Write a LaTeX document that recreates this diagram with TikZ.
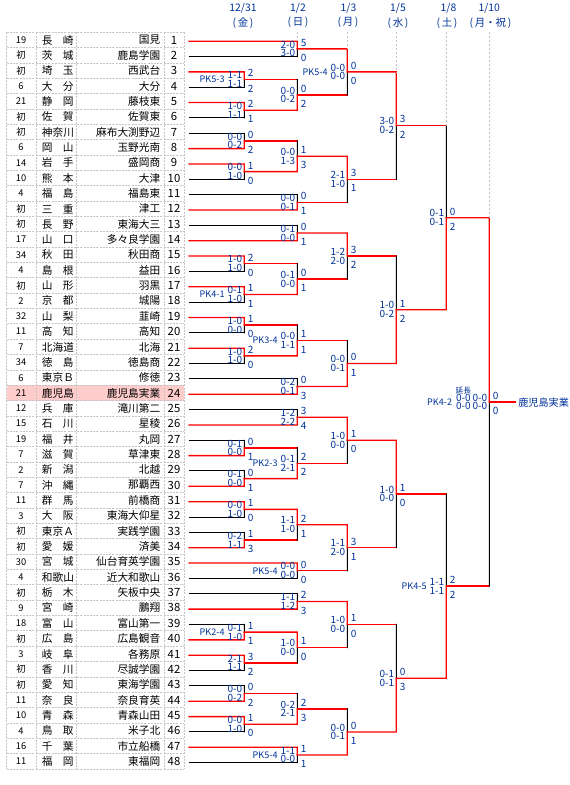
\documentclass[tikz,border=0pt]{standalone}
\usepackage{fontspec}
\setmainfont{Noto Sans CJK JP}
\usetikzlibrary{calc}
\definecolor{navy}{RGB}{0,51,153}
\definecolor{gridc}{RGB}{196,196,196}
\definecolor{pinkrow}{RGB}{255,204,204}
\definecolor{guidec}{RGB}{190,190,190}
\definecolor{wred}{RGB}{255,0,0}
% match: #1 name, #2 column, #3 winner entry, #4 loser entry, #5 style of loser's horizontal
\newcommand\bm[5]{%
  \coordinate (#1) at ($(#3 -| #2)!0.5!(#4 -| #2)$);
  \draw[#5] (#4) -- (#4 -| #2);
  \draw[lose] (#4 -| #2) -- (#1);
  \draw[win] (#3) -- (#3 -| #2) -- (#1);
}
% labels: #1 match, #2 upper score, #3 lower score, #4 upper goals, #5 lower goals
\newcommand\lab[5]{%
  \node[sc, anchor=east] (#1a) at ($(#1)+(-1.8,-4.4)$) {#2};
  \node[sc, anchor=east] (#1b) at ($(#1)+(-1.8,4.4)$) {#3};
  \node[sc, anchor=west] (#1c) at ($(#1)+(3.2,-6.2)$) {#4};
  \node[sc, anchor=west] (#1d) at ($(#1)+(3.2,9)$) {#5};
}
\newcommand\pkl[2]{\node[sc, font=\fontsize{6.8}{7}\selectfont, anchor=east] (#1p) at ($(#1)+(-19.5,0)$) {#2};}
\begin{document}
\begin{tikzpicture}[x=0.75pt,y=-0.75pt,
  win/.style={draw=wred, line width=1.0pt, line cap=rect},
  lose/.style={draw=black, line width=0.75pt, line cap=rect},
  sc/.style={font=\fontsize{7.5}{7.5}\selectfont, text=navy, inner sep=0pt},
  hdr/.style={font=\fontsize{7.8}{8}\selectfont, text=navy, inner sep=0pt},
  guide/.style={draw=guidec, line width=0.75pt, dash pattern=on 1.5pt off 1.5pt},
  gridl/.style={draw=gridc, line width=0.75pt, dash pattern=on 1.5pt off 0.9pt},
  cell/.style={font=\fontsize{8}{9}\selectfont, inner sep=0pt},
  numc/.style={font=\fontsize{7}{8}\selectfont, inner sep=0pt},
  seat/.style={font=\fontsize{8.5}{9}\selectfont, inner sep=0pt}]
\fill[white] (0,0) rectangle (570,785);
\useasboundingbox (0,0) rectangle (570,785);
% columns of the bracket
\coordinate (X1) at (244.3,0);
\coordinate (X2) at (297.3,0);
\coordinate (X3) at (347.3,0);
\coordinate (X4) at (396.3,0);
\coordinate (X5) at (446.3,0);
\coordinate (X6) at (489.3,0);
\coordinate (X7) at (515,0);
\coordinate (gtop) at (0,31.7);
% table
\fill[pinkrow] (6.7,385.35) rectangle (184,400.7);
\foreach \k in {0,...,48} \draw[gridl] (6.7,{32.3+15.35*\k}) -- (184,{32.3+15.35*\k});
\foreach \xx in {6.7,36,76,164,184} \draw[gridl] (\xx,32.3) -- (\xx,769.1);
\foreach \va/\vb/\vc [count=\i] in {
19/長\hfill{}崎/国見,
初/茨\hfill{}城/鹿島学園,
初/埼\hfill{}玉/西武台,
6/大\hfill{}分/大分,
21/静\hfill{}岡/藤枝東,
初/佐\hfill{}賀/佐賀東,
初/神\hfill{}奈\hfill{}川/麻布大渕野辺,
6/岡\hfill{}山/玉野光南,
14/岩\hfill{}手/盛岡商,
10/熊\hfill{}本/大津,
4/福\hfill{}島/福島東,
初/三\hfill{}重/津工,
初/長\hfill{}野/東海大三,
17/山\hfill{}口/多々良学園,
34/秋\hfill{}田/秋田商,
4/島\hfill{}根/益田,
初/山\hfill{}形/羽黒,
2/京\hfill{}都/城陽,
32/山\hfill{}梨/韮崎,
11/高\hfill{}知/高知,
7/北\hfill{}海\hfill{}道/北海,
34/徳\hfill{}島/徳島商,
6/東\hfill{}京\hfill{}Ｂ/修徳,
21/鹿\hfill{}児\hfill{}島/鹿児島実業,
12/兵\hfill{}庫/滝川第二,
15/石\hfill{}川/星稜,
19/福\hfill{}井/丸岡,
7/滋\hfill{}賀/草津東,
2/新\hfill{}潟/北越,
7/沖\hfill{}縄/那覇西,
11/群\hfill{}馬/前橋商,
3/大\hfill{}阪/東海大仰星,
初/東\hfill{}京\hfill{}Ａ/実践学園,
初/愛\hfill{}媛/済美,
30/宮\hfill{}城/仙台育英学園,
4/和\hfill{}歌\hfill{}山/近大和歌山,
初/栃\hfill{}木/矢板中央,
9/宮\hfill{}崎/鵬翔,
18/富\hfill{}山/富山第一,
初/広\hfill{}島/広島観音,
3/岐\hfill{}阜/各務原,
初/香\hfill{}川/尽誠学園,
初/愛\hfill{}知/東海学園,
11/奈\hfill{}良/奈良育英,
10/青\hfill{}森/青森山田,
4/鳥\hfill{}取/米子北,
16/千\hfill{}葉/市立船橋,
11/福\hfill{}岡/東福岡}{
  \pgfmathsetmacro\yc{24.625+15.35*\i}
  \node[numc] (n\i) at (21,\yc) {\va};
  \node[cell, anchor=west] (p\i) at (41.7,\yc) {\makebox[23.7pt][s]{\vb}};
  \node[cell, anchor=east] (s\i) at (160.5,\yc) {\vc};
  \node[seat] (k\i) at (174,\yc) {\i};
  \coordinate (t\i) at (189,{\yc+1.2});
}
% headers
\node[hdr] (h1a) at (243,8.3) {12/31};
\node[hdr] (h1b) at (243,22.7) {(\thinspace 金\thinspace)};
\node[hdr] (h2a) at (298,8.3) {1/2};
\node[hdr] (h2b) at (298,22.7) {(\thinspace 日\thinspace)};
\node[hdr] (h3a) at (348.5,8.3) {1/3};
\node[hdr] (h3b) at (348,22.7) {(\thinspace 月\thinspace)};
\node[hdr] (h4a) at (398,8.3) {1/5};
\node[hdr] (h4b) at (398,22.7) {(\thinspace 水\thinspace)};
\node[hdr] (h5a) at (448.5,8.3) {1/8};
\node[hdr] (h5b) at (447,22.7) {(\thinspace 土\thinspace)};
\node[hdr] (h6a) at (489.3,8.3) {1/10};
\node[hdr] (h6b) at (490.5,22.7) {(\thinspace 月・祝\thinspace)};
% round 1 (12/31)
\bm{A1}{X1}{t3}{t4}{lose}
\bm{A2}{X1}{t5}{t6}{lose}
\bm{A3}{X1}{t8}{t7}{lose}
\bm{A4}{X1}{t9}{t10}{lose}
\bm{A5}{X1}{t15}{t16}{lose}
\bm{A6}{X1}{t17}{t18}{lose}
\bm{A7}{X1}{t19}{t20}{lose}
\bm{A8}{X1}{t21}{t22}{lose}
\bm{A9}{X1}{t28}{t27}{lose}
\bm{A10}{X1}{t30}{t29}{lose}
\bm{A11}{X1}{t31}{t32}{lose}
\bm{A12}{X1}{t34}{t33}{lose}
\bm{A13}{X1}{t40}{t39}{lose}
\bm{A14}{X1}{t41}{t42}{lose}
\bm{A15}{X1}{t44}{t43}{lose}
\bm{A16}{X1}{t45}{t46}{lose}
% round 2 (1/2)
\bm{B1}{X2}{t1}{t2}{lose}
\bm{B2}{X2}{A2}{A1}{win}
\bm{B3}{X2}{A4}{A3}{win}
\bm{B4}{X2}{t12}{t11}{lose}
\bm{B5}{X2}{t14}{t13}{lose}
\bm{B6}{X2}{A6}{A5}{win}
\bm{B7}{X2}{A8}{A7}{win}
\bm{B8}{X2}{t24}{t23}{lose}
\bm{B9}{X2}{t26}{t25}{lose}
\bm{B10}{X2}{A10}{A9}{win}
\bm{B11}{X2}{A11}{A12}{win}
\bm{B12}{X2}{t35}{t36}{lose}
\bm{B13}{X2}{t38}{t37}{lose}
\bm{B14}{X2}{A13}{A14}{win}
\bm{B15}{X2}{A16}{A15}{win}
\bm{B16}{X2}{t47}{t48}{lose}
% round 3 (1/3)
\bm{C1}{X3}{B1}{B2}{win}
\bm{C2}{X3}{B3}{B4}{win}
\bm{C3}{X3}{B5}{B6}{win}
\bm{C4}{X3}{B8}{B7}{win}
\bm{C5}{X3}{B9}{B10}{win}
\bm{C6}{X3}{B11}{B12}{win}
\bm{C7}{X3}{B13}{B14}{win}
\bm{C8}{X3}{B16}{B15}{win}
% quarter finals (1/5)
\bm{D1}{X4}{C1}{C2}{win}
\bm{D2}{X4}{C4}{C3}{win}
\bm{D3}{X4}{C5}{C6}{win}
\bm{D4}{X4}{C8}{C7}{win}
% semi finals (1/8)
\bm{E1}{X5}{D2}{D1}{win}
\bm{E2}{X5}{D4}{D3}{win}
% final (1/10)
\bm{F}{X6}{E1}{E2}{win}
\draw[win] (F) -- (F -| X7);
\node[anchor=west, font=\fontsize{7.6}{8}\selectfont, text=navy, inner sep=0pt] (champ) at ($(F -| X7)+(3,1)$) {鹿児島実業};
% guides
\draw[guide] (X2 |- gtop) -- (t1 -| X2);
\draw[guide] (X3 |- gtop) -- (B1 -| X3);
\draw[guide] (X4 |- gtop) -- (C1 -| X4);
\draw[guide] (X5 |- gtop) -- (D1 -| X5);
\draw[guide] (X6 |- gtop) -- (E1 -| X6);
% labels round 1
\lab{A1}{1-1}{1-1}{2}{2}\pkl{A1}{PK5-3}
\lab{A2}{1-0}{1-1}{2}{1}
\lab{A3}{0-0}{0-2}{0}{2}
\lab{A4}{0-0}{1-0}{1}{0}
\lab{A5}{1-0}{1-0}{2}{0}
\lab{A6}{0-1}{1-0}{1}{1}\pkl{A6}{PK4-1}
\lab{A7}{1-0}{0-0}{1}{0}
\lab{A8}{1-0}{1-0}{2}{0}
\lab{A9}{0-1}{0-0}{0}{1}
\lab{A10}{0-1}{0-0}{0}{1}
\lab{A11}{0-0}{1-0}{1}{0}
\lab{A12}{0-2}{1-1}{1}{3}
\lab{A13}{0-1}{1-0}{1}{1}\pkl{A13}{PK2-4}
\lab{A14}{2-1}{1-1}{3}{2}
\lab{A15}{0-0}{0-2}{0}{2}
\lab{A16}{0-0}{1-0}{1}{0}
% labels round 2
\lab{B1}{2-0}{3-0}{5}{0}
\lab{B2}{0-0}{0-2}{0}{2}
\lab{B3}{0-0}{1-3}{1}{3}
\lab{B4}{0-0}{0-1}{0}{1}
\lab{B5}{0-1}{0-0}{0}{1}
\lab{B6}{0-1}{0-0}{0}{1}
\lab{B7}{0-0}{1-1}{1}{1}\pkl{B7}{PK3-4}
\lab{B8}{0-2}{0-1}{0}{3}
\lab{B9}{1-2}{2-2}{3}{4}
\lab{B10}{0-1}{2-1}{2}{2}\pkl{B10}{PK2-3}
\lab{B11}{1-1}{1-0}{2}{1}
\lab{B12}{0-0}{0-0}{0}{0}\pkl{B12}{PK5-4}
\lab{B13}{1-1}{1-2}{2}{3}
\lab{B14}{1-0}{0-0}{1}{0}
\lab{B15}{0-2}{2-1}{2}{3}
\lab{B16}{1-1}{0-0}{1}{1}\pkl{B16}{PK5-4}
% labels round 3
\lab{C1}{0-0}{0-0}{0}{0}\pkl{C1}{PK5-4}
\lab{C2}{2-1}{1-0}{3}{1}
\lab{C3}{1-2}{2-0}{3}{2}
\lab{C4}{0-0}{0-1}{0}{1}
\lab{C5}{1-0}{0-0}{1}{0}
\lab{C6}{1-1}{2-0}{3}{1}
\lab{C7}{1-0}{0-0}{1}{0}
\lab{C8}{0-0}{0-1}{0}{1}
% labels quarter and semi finals
\lab{D1}{3-0}{0-2}{3}{2}
\lab{D2}{1-0}{0-2}{1}{2}
\lab{D3}{1-0}{0-0}{1}{0}
\lab{D4}{0-1}{0-1}{0}{3}
\lab{E1}{0-1}{0-1}{0}{2}
\lab{E2}{1-1}{1-1}{2}{2}\pkl{E2}{PK4-5}
% final labels
\node[sc, font=\fontsize{5.8}{6}\selectfont] (Fx) at ($(F)+(-26,-11.7)$) {延長};
\node[sc, anchor=east] (Fa1) at ($(F)+(-18.3,-4.4)$) {0-0};
\node[sc, anchor=east] (Fa2) at ($(F)+(-1.8,-4.4)$) {0-0};
\node[sc, anchor=east] (Fb1) at ($(F)+(-18.3,4.4)$) {0-0};
\node[sc, anchor=east] (Fb2) at ($(F)+(-1.8,4.4)$) {0-0};
\node[sc, font=\fontsize{6.8}{7}\selectfont, anchor=east] (Fp) at ($(F)+(-37,0.5)$) {PK4-2};
\node[sc, anchor=west] (Fc) at ($(F)+(3.2,-6.2)$) {0};
\node[sc, anchor=west] (Fd) at ($(F)+(3.2,9)$) {0};
\end{tikzpicture}
\end{document}
